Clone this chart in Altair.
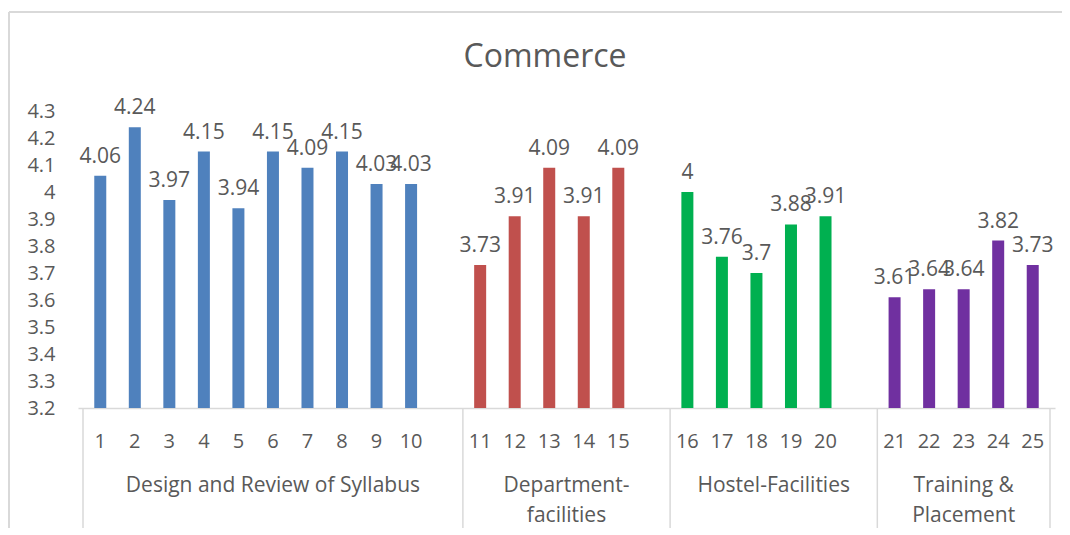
import altair as alt
import pandas as pd

# ---- data ----
categories = [str(i) for i in range(1, 26)]
values = [4.06, 4.24, 3.97, 4.15, 3.94, 4.15, 4.09, 4.15, 4.03, 4.03,
          3.73, 3.91, 4.09, 3.91, 4.09,
          4.00, 3.76, 3.70, 3.88, 3.91,
          3.61, 3.64, 3.64, 3.82, 3.73]
group_names = ["Design and Review of Syllabus", "Department-\nfacilities",
               "Hostel-Facilities", "Training &\nPlacement"]
group_sizes = [10, 5, 5, 5]
group_colors = ["#4F81BD", "#C0504D", "#00B050", "#7030A0"]
y_ticks = [3.2, 3.3, 3.4, 3.5, 3.6, 3.7, 3.8, 3.9, 4.0, 4.1, 4.2, 4.3]
chart_title = "Commerce"

# ---- build tables (one blank slot after every group but the last) ----
rows = []
bounds = [0]
k = 0
for g, (name, size) in enumerate(zip(group_names, group_sizes)):
    for j in range(size):
        rows.append({"cat": categories[k], "value": values[k], "group": name,
                     "pos": k + g + 0.5})
        k += 1
    gap = 1 if g < len(group_names) - 1 else 0
    bounds.append(k + g + gap)
df = pd.DataFrame(rows)
n_slots = bounds[-1]

groups_df = pd.DataFrame({
    "group": group_names,
    "start": bounds[:-1],
    "end": bounds[1:],
})
groups_df["mid"] = (groups_df["start"] + groups_df["end"]) / 2
sep_df = pd.DataFrame({"b": bounds})
title_df = pd.DataFrame({"t": [chart_title]})

W, H = 977, 297
TOP, LEFT = 103, 70
TEXT = "#595959"
LINE = "#D9D9D9"
FONT = "Open Sans"

xscale = alt.Scale(domain=[0, n_slots], nice=False, zero=False)
yscale = alt.Scale(domain=[3.2, 4.3], nice=False, zero=False)

x_axis = alt.Axis(labels=False, ticks=False, grid=False, title=None,
                  domainColor=LINE, domainWidth=1.5)
y_axis = alt.Axis(values=y_ticks, labelExpr="format(datum.value, '.1~f')",
                  domain=False, ticks=False, grid=False, title=None,
                  labelOverlap=False, labelFlush=False,
                  labelFont=FONT, labelFontSize=20, labelColor=TEXT,
                  labelPadding=23)

X = alt.X("pos:Q", scale=xscale, axis=x_axis)
Y = alt.Y("value:Q", scale=yscale, axis=y_axis)

base = alt.Chart(df)

bars = base.mark_bar(size=12).encode(
    x=X,
    y=Y,
    y2=alt.datum(3.2),
    color=alt.Color("group:N", scale=alt.Scale(domain=group_names, range=group_colors),
                    legend=None),
)

labels = base.mark_text(baseline="bottom", dy=-9, font=FONT, fontSize=21, color=TEXT).encode(
    x=X,
    y=Y,
    text=alt.Text("value:Q", format="~g"),
)

cat_labels = base.mark_text(baseline="middle", font=FONT, fontSize=20, color=TEXT).encode(
    x=X,
    y=alt.value(H + 34),
    text="cat:N",
)

seps = alt.Chart(sep_df).mark_rule(color=LINE, strokeWidth=1.5).encode(
    x=alt.X("b:Q", scale=xscale, axis=x_axis),
    y=alt.value(H),
    y2=alt.value(H + 135),
)

grp_labels = alt.Chart(groups_df).mark_text(
    baseline="top", font=FONT, fontSize=21, color=TEXT, lineBreak="\n", lineHeight=30
).encode(
    x=alt.X("mid:Q", scale=xscale, axis=x_axis),
    y=alt.value(H + 67),
    text="group:N",
)

title_mark = alt.Chart(title_df).mark_text(
    baseline="middle", align="center", font=FONT, fontSize=32, color=TEXT
).encode(
    x=alt.value(545 - 8 - LEFT),
    y=alt.value(57 - 8 - TOP),
    text="t:N",
)

frame = alt.Chart(title_df).mark_rule(color=LINE, strokeWidth=2).encode(
    x=alt.value(-LEFT + 1), y=alt.value(-TOP + 4), y2=alt.value(H + 140)
)
frame_top = alt.Chart(title_df).mark_rule(color=LINE, strokeWidth=2).encode(
    x=alt.value(-LEFT + 1), x2=alt.value(W + 40), y=alt.value(-TOP + 4)
)

chart = alt.layer(frame, frame_top, title_mark, bars, labels, cat_labels, seps,
                  grp_labels).properties(
    width=W, height=H,
    autosize=alt.AutoSizeParams(type="none"),
    padding={"left": LEFT, "top": TOP, "right": 7, "bottom": 120},
).configure_view(stroke=None)

chart.save("out.html", embed_options={"renderer": "svg", "actions": False})
